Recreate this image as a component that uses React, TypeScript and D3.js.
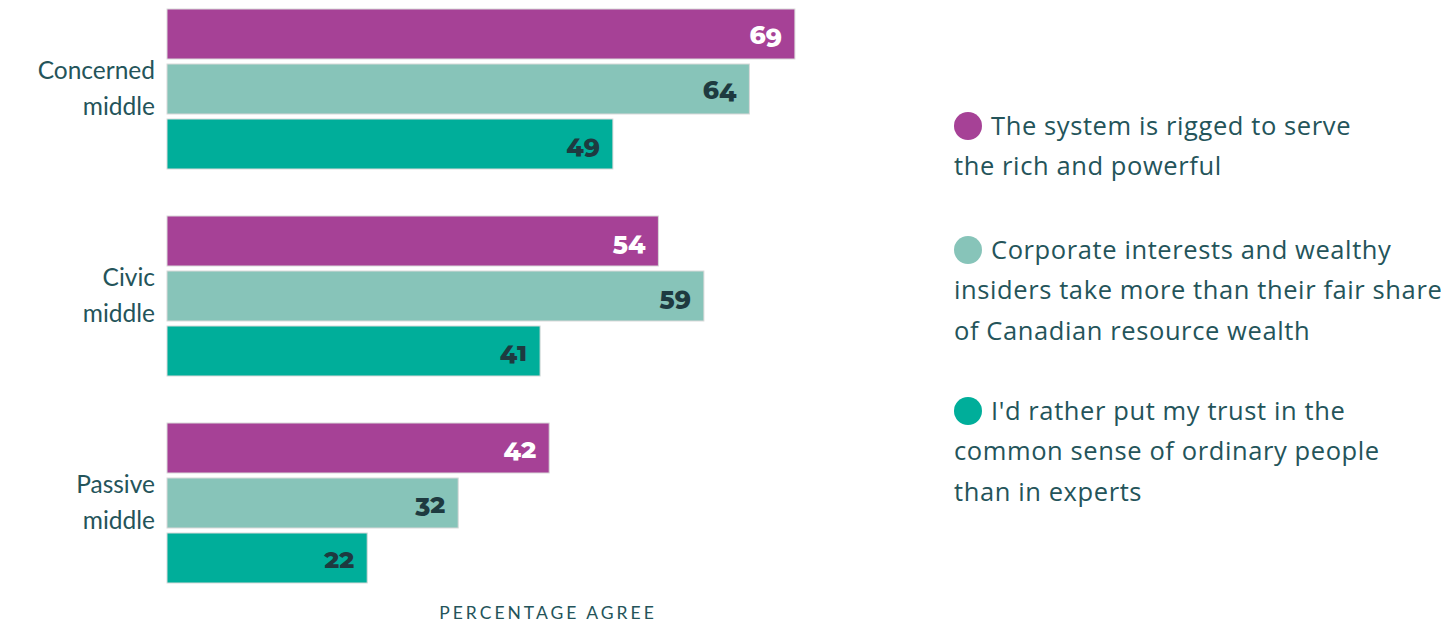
import React from "react";
import * as d3 from "d3";

const categories = ["Concerned middle", "Civic middle", "Passive middle"];
const categoryLines = [["Concerned", "middle"], ["Civic", "middle"], ["Passive", "middle"]];
const seriesNames = [
  "The system is rigged to serve the rich and powerful",
  "Corporate interests and wealthy insiders take more than their fair share of Canadian resource wealth",
  "I'd rather put my trust in the common sense of ordinary people than in experts",
];
const legendLines = [
  ["The system is rigged to serve", "the rich and powerful"],
  ["Corporate interests and wealthy", "insiders take more than their fair share", "of Canadian resource wealth"],
  ["I'd rather put my trust in the", "common sense of ordinary people", "than in experts"],
];
const rigged = [69, 54, 42];
const corporate = [64, 59, 32];
const commonSense = [49, 41, 22];
const axisTitle = "PERCENTAGE AGREE";

const colors = ["#A64196", "#87C4B9", "#00AE9A"];
const labelColors = ["#ffffff", "#1E3A40", "#1E3A40"];
const textColor = "#24545A";
const font = "Lato, 'Noto Sans', sans-serif";

export default function App() {
  const W = 1441, H = 623;
  const series = [rigged, corporate, commonSense];
  const x = d3.scaleLinear().domain([0, 100]).range([167, 1077]);
  const y0 = d3.scaleBand<string>().domain(categories).range([9, 582]).paddingInner(48 / 207);
  const y1 = d3.scaleBand<number>().domain([0, 1, 2]).range([0, y0.bandwidth() + 1]).paddingInner(5 / 55);

  const legendY = [126, 250, 411];
  const legendLH = 40.5;

  return (
    <svg width={W} height={H} style={{ position: "absolute", left: 0, top: 0, background: "#fff" }}>
      {categories.map((c, ci) => (
        <g key={c}>
          {series.map((s, si) => {
            const yy = (y0(c) as number) + (y1(si) as number);
            const bw = y1.bandwidth();
            return (
              <g key={si}>
                <rect x={x(0)} y={yy} width={x(s[ci]) - x(0)} height={bw} fill={colors[si]} stroke="#d9d9d9" strokeWidth={1} />
                <text
                  x={x(s[ci]) - 13}
                  y={yy + bw / 2 + 1}
                  dy="0.35em"
                  textAnchor="end"
                  fill={labelColors[si]}
                  fontFamily="Montserrat, 'Open Sans', Lato, sans-serif"
                  fontWeight={800}
                  fontSize={25}
                  style={{ fontVariantNumeric: "oldstyle-nums" }}
                >
                  {s[ci]}
                </text>
              </g>
            );
          })}
          {categoryLines[ci].map((ln, li) => (
            <text
              key={li}
              x={155}
              y={(y0(c) as number) + y0.bandwidth() / 2 - 18 + li * 36}
              dy="0.35em"
              textAnchor="end"
              fill={textColor}
              fontFamily={font}
              fontSize={24.5}
            >
              {ln}
            </text>
          ))}
        </g>
      ))}
      <text x={548} y={613} dy="0.35em" textAnchor="middle" fill={textColor} fontFamily={font} fontSize={17.5} letterSpacing={3}>
        {axisTitle}
      </text>
      {seriesNames.map((n, si) => (
        <g key={n}>
          <circle cx={968} cy={legendY[si]} r={14} fill={colors[si]} />
          {legendLines[si].map((ln, li) => (
            <text
              key={li}
              x={li === 0 ? 991 : 954}
              y={legendY[si] + li * legendLH}
              dy="0.35em"
              fill={textColor}
              fontFamily="'Open Sans', Lato, sans-serif"
              fontSize={25.5}
              letterSpacing={0.6}
            >
              {ln}
            </text>
          ))}
        </g>
      ))}
    </svg>
  );
}
